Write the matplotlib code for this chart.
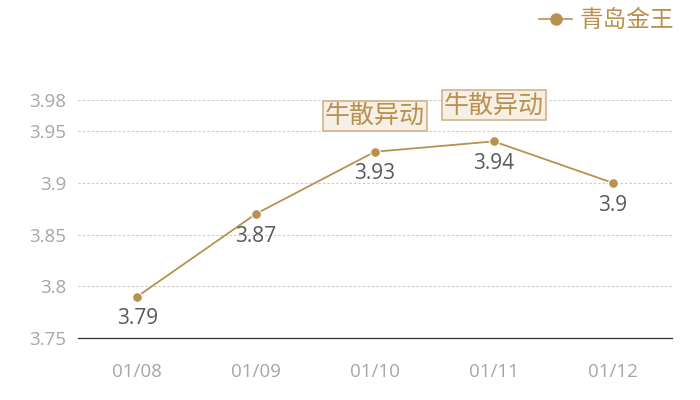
import matplotlib
matplotlib.use('Agg')
import matplotlib.pyplot as plt
from matplotlib.lines import Line2D

plt.rcParams['font.family'] = ['Open Sans', 'Noto Sans CJK SC', 'DejaVu Sans']

# data
dates = ['01/08', '01/09', '01/10', '01/11', '01/12']
prices = [3.79, 3.87, 3.93, 3.94, 3.90]
series_name = '青岛金王'
y_ticks = [3.75, 3.8, 3.85, 3.9, 3.95, 3.98]
y_tick_labels = ['3.75', '3.8', '3.85', '3.9', '3.95', '3.98']
note_idx = [2, 3]
note_text = '牛散异动'

GOLD = '#b8914f'

fig = plt.figure(figsize=(7, 4), dpi=100)
ax = fig.add_axes([0.111, 0.155, 0.849, 0.595])

x = list(range(len(dates)))
ax.plot(x, prices, color=GOLD, linewidth=1.3, marker='o', markersize=7,
        markeredgecolor='white', markeredgewidth=0.8, zorder=3)

ax.set_xlim(-0.5, len(dates) - 0.5)
ax.set_ylim(3.75, 3.98)
ax.set_xticks(x)
ax.set_xticklabels(dates)
ax.set_yticks(y_ticks)
ax.set_yticklabels(y_tick_labels)
ax.tick_params(axis='both', length=0, labelsize=13.5, labelcolor='#a6a6a6')
ax.tick_params(axis='x', pad=18)
ax.tick_params(axis='y', pad=8)

for t in y_ticks[1:]:
    ax.axhline(t, color='#c8c8c8', linewidth=0.8, linestyle=(0, (2, 2)), zorder=1)

for side in ['top', 'right', 'left']:
    ax.spines[side].set_visible(False)
ax.spines['bottom'].set_color('#333333')
ax.spines['bottom'].set_linewidth(0.9)

# value labels under each point
for xi, v in zip(x, prices):
    ax.annotate(f'{v:g}', (xi, v), xytext=(0, -16), textcoords='offset points',
                ha='center', va='center', fontsize=15, color='#595959')

# boxed notes above two points
for i in note_idx:
    ax.annotate(note_text, (x[i], prices[i]), xytext=(0, 26), textcoords='offset points',
                ha='center', va='center', fontsize=18, color=GOLD,
                family=['Noto Sans CJK SC', 'DejaVu Sans'],
                bbox=dict(boxstyle='square,pad=0.08', facecolor='#f5efe6',
                          edgecolor='#d2b489', linewidth=1.2))

handle = Line2D([], [], color=GOLD, linewidth=1.2, marker='o', markersize=8)
fig.legend(handles=[handle], labels=[series_name], loc='upper right',
           bbox_to_anchor=(0.993, 1.03), frameon=False, handlelength=1.4,
           handletextpad=0.3, prop={'family': ['Noto Sans CJK SC'], 'size': 17},
           labelcolor=GOLD)

fig.savefig('out.png', dpi=100)
